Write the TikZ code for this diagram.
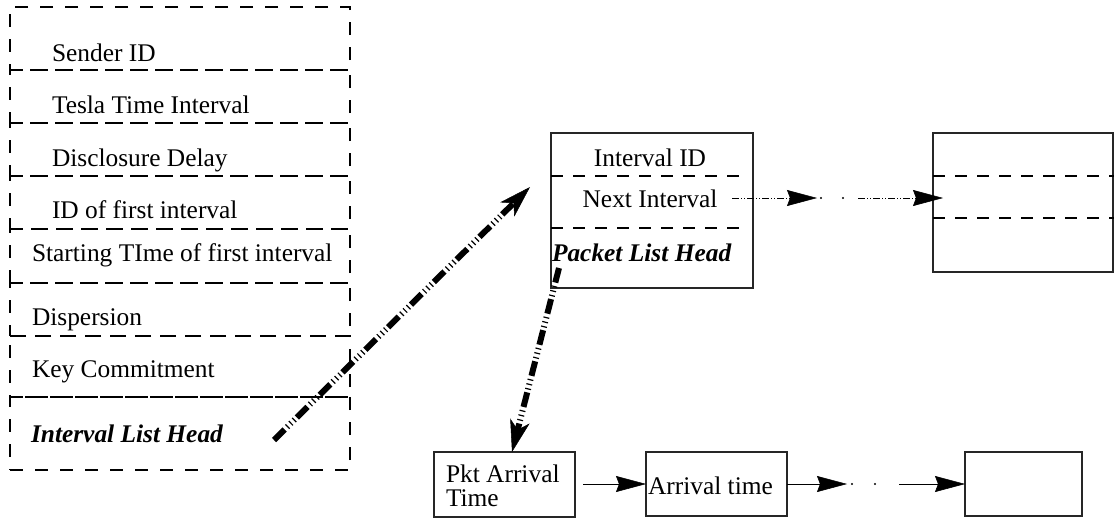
\documentclass[tikz,border=0pt]{standalone}
\usepackage{fontspec}
\setmainfont{Liberation Serif}
\usetikzlibrary{arrows.meta}
\tikzset{
  every node/.style={inner sep=0pt, outer sep=0pt},
  lbl/.style={anchor=base west, font=\fontsize{25.4}{22}\selectfont},
  blbl/.style={lbl, font=\fontsize{25.4}{22}\selectfont\bfseries\itshape},
  rowbox/.style={draw=black, line width=1.7pt, dash pattern=on 13pt off 12pt, minimum width=340pt, anchor=north west},
  solidbox/.style={draw=black!85, line width=1.3pt, anchor=north west},
  divider/.style={draw=black, line width=1.7pt, dash pattern=on 12pt off 10pt},
  thickarrow/.style={line width=6pt, dash pattern=on 15pt off 3.5pt on 1.2pt off 3.5pt on 1.2pt off 3.5pt on 1.2pt off 3pt,
    -{Stealth[length=32pt,width=20pt,inset=9pt,line width=0.5pt]}},
  thinarrow/.style={line width=1pt, -{Stealth[length=30pt,width=16pt,inset=3pt,line width=0.5pt]}},
  dotarrow/.style={thinarrow, dash pattern=on 7pt off 2pt on 1pt off 2pt on 1pt off 2pt},
  tinydot/.style={circle, fill=black, minimum size=2.4pt},
}
\begin{document}
\begin{tikzpicture}[x=1pt,y=-1pt]
\useasboundingbox (0,0) rectangle (1116,520);
% left structure
\node[rowbox, minimum height=63pt] (r1) at (10,7) {};
\node[rowbox, minimum height=53pt] (r2) at (10,70) {};
\node[rowbox, minimum height=53pt] (r3) at (10,123) {};
\node[rowbox, minimum height=53pt] (r4) at (10,176) {};
\node[rowbox, minimum height=54pt] (r5) at (10,229) {};
\node[rowbox, minimum height=53pt] (r6) at (10,283) {};
\node[rowbox, minimum height=61pt] (r7) at (10,336) {};
\node[rowbox, minimum height=73pt] (r8) at (10,397) {};
\node[lbl] (t1) at (52,61) {Sender ID};
\node[lbl] (t2) at (52,113) {Tesla Time Interval};
\node[lbl] (t3) at (52,166) {Disclosure Delay};
\node[lbl] (t4) at (52,218) {ID of first interval};
\node[lbl] (t5) at (32,261) {Starting TIme of first interval};
\node[lbl] (t6) at (32,325) {Dispersion};
\node[lbl] (t7) at (32,377) {Key Commitment};
\node[blbl] (t8) at (31,442) {Interval List Head};
% interval box
\node[solidbox, minimum width=202pt, minimum height=155pt] (iv) at (551,133) {};
\draw[divider] (551,176) -- (743,176);
\draw[divider] (551,228) -- (743,228);
\node[lbl, anchor=base] (ivid) at (650,166) {Interval ID};
\node[lbl, anchor=base] (ivnext) at (650,207) {Next Interval};
\node[blbl] (ivpkt) at (552,261) {Packet List Head};
% next interval box
\node[solidbox, minimum width=180pt, minimum height=139pt] (nb) at (933,133) {};
\draw[divider] (933,176) -- (1114,176);
\draw[divider] (933,218) -- (1114,218);
% packet boxes
\node[solidbox, minimum width=141pt, minimum height=65pt] (pa) at (434,452) {};
\node[lbl, align=left, font=\fontsize{25.4}{24}\selectfont] (pat) at (446,506) {Pkt Arrival\\Time};
\node[solidbox, minimum width=141pt, minimum height=64pt] (at) at (646,452) {};
\node[lbl] (att) at (648,494) {Arrival time};
\node[solidbox, minimum width=117pt, minimum height=64pt] (lb) at (965,452) {};
% thick arrows
\coordinate (s1) at (274,440);
\coordinate (e1) at (530,187);
\draw[thickarrow] (s1) -- (e1);
\coordinate (s2) at (559,268);
\draw[thickarrow] (s2) -- (pa.north -| 512,452);
% next interval arrow
\coordinate (n0) at (732,198);
\coordinate (n1) at (817,198);
\coordinate (n2) at (858,198);
\coordinate (n3) at (943,198);
\draw[dotarrow] (n0) -- (n1);
\node[tinydot] (nd1) at (821,198) {};
\node[tinydot] (nd2) at (843,198) {};
\draw[dotarrow] (n2) -- (n3);
% packet list arrows
\coordinate (p0) at (583,484);
\draw[thinarrow] (p0) -- (at.west |- p0);
\coordinate (q1) at (847,484);
\draw[thinarrow] (at.east |- q1) -- (q1);
\node[tinydot] (qd1) at (852,484) {};
\node[tinydot] (qd2) at (875,484) {};
\coordinate (q2) at (899,484);
\draw[thinarrow] (q2) -- (lb.west |- q2);
\end{tikzpicture}
\end{document}
